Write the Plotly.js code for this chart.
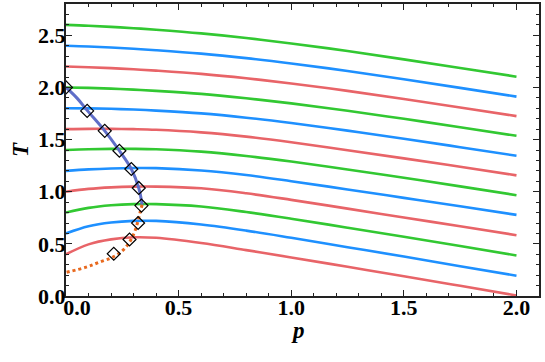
<!DOCTYPE html>
<html>
<head>
<meta charset="utf-8">
<script src="https://cdn.plot.ly/plotly-3.0.1.min.js"></script>
<style>html,body{margin:0;padding:0;background:#fff;}#chart{width:545px;height:362px;}</style>
</head>
<body>
<div id="chart"></div>
<script>
// pressure grid at which the curves were read
const pGrid = [0, 0.1, 0.2, 0.3, 0.4, 0.6, 0.8, 1.0, 1.25, 1.5, 1.75, 2.0];
// curves, labelled by their value at p = 0 (bottom to top)
const T040 = [0.40, 0.495, 0.543, 0.563, 0.558, 0.508, 0.440, 0.370, 0.280, 0.190, 0.098, 0.005];
const T060 = [0.60, 0.668, 0.704, 0.720, 0.720, 0.685, 0.627, 0.558, 0.468, 0.378, 0.286, 0.195];
const T080 = [0.80, 0.845, 0.870, 0.881, 0.881, 0.858, 0.805, 0.741, 0.655, 0.568, 0.479, 0.389];
const T100 = [1.00, 1.027, 1.042, 1.049, 1.049, 1.033, 0.985, 0.922, 0.838, 0.753, 0.668, 0.583];
const T120 = [1.20, 1.214, 1.223, 1.227, 1.226, 1.204, 1.160, 1.101, 1.022, 0.941, 0.860, 0.778];
const T140 = [1.40, 1.407, 1.411, 1.411, 1.407, 1.384, 1.343, 1.289, 1.213, 1.134, 1.051, 0.967];
const T160 = [1.60, 1.603, 1.603, 1.600, 1.594, 1.569, 1.528, 1.474, 1.398, 1.320, 1.239, 1.157];
const T180 = [1.80, 1.799, 1.795, 1.788, 1.778, 1.751, 1.710, 1.659, 1.586, 1.508, 1.427, 1.345];
const T200 = [2.00, 1.996, 1.989, 1.979, 1.967, 1.938, 1.896, 1.847, 1.776, 1.699, 1.618, 1.536];
const T220 = [2.20, 2.194, 2.185, 2.174, 2.161, 2.130, 2.088, 2.038, 1.967, 1.889, 1.808, 1.725];
const T240 = [2.40, 2.393, 2.383, 2.371, 2.357, 2.324, 2.281, 2.230, 2.158, 2.078, 1.996, 1.912];
const T260 = [2.60, 2.592, 2.581, 2.568, 2.553, 2.518, 2.474, 2.422, 2.349, 2.269, 2.187, 2.103];
const curveSeries = [T040, T060, T080, T100, T120, T140, T160, T180, T200, T220, T240, T260];
const curveColors = ['rgb(232,100,104)', 'rgb(30,144,255)', 'rgb(50,200,50)'];

// upper (solid) branch of the boundary line
const solidP = [0, 0.05, 0.094, 0.172, 0.237, 0.29, 0.323, 0.338];
const solidT = [2.0, 1.895, 1.78, 1.584, 1.393, 1.218, 1.036, 0.875];
// lower (dotted) branch
const dotP = [0.338, 0.329, 0.318, 0.304, 0.282, 0.252, 0.208, 0.149, 0.09, 0];
const dotT = [0.875, 0.803, 0.707, 0.612, 0.516, 0.437, 0.373, 0.325, 0.277, 0.226];
// diamond markers
const diaP = [0, 0.094, 0.172, 0.237, 0.29, 0.323, 0.335, 0.32, 0.282, 0.212];
const diaT = [2.0, 1.775, 1.584, 1.393, 1.218, 1.036, 0.867, 0.70, 0.542, 0.405];

const xTicks = [0, 0.5, 1.0, 1.5, 2.0];
const xTickText = ['&#8195;<b>0.0</b>', '<b>0.5</b>', '<b>1.0</b>', '<b>1.5</b>', '<b>2.0</b>'];
const yTicks = [0, 0.5, 1.0, 1.5, 2.0, 2.5];
const yTickText = ['<b>0.0</b>', '<b>0.5</b>', '<b>1.0</b>', '<b>1.5</b>', '<b>2.0</b>', '<b>2.5</b>'];
const xMinor = [0.1,0.2,0.3,0.4,0.6,0.7,0.8,0.9,1.1,1.2,1.3,1.4,1.6,1.7,1.8,1.9,2.1];
const yMinor = [0.1,0.2,0.3,0.4,0.6,0.7,0.8,0.9,1.1,1.2,1.3,1.4,1.6,1.7,1.8,1.9,2.1,2.2,2.3,2.4,2.6,2.7];
const xTitle = 'p';
const yTitle = 'T';

const traces = [];
curveSeries.forEach((ys, i) => {
  traces.push({
    x: pGrid, y: ys, mode: 'lines', type: 'scatter',
    line: {color: curveColors[i % 3], width: 2.6, shape: 'spline', smoothing: 1},
    hoverinfo: 'skip', showlegend: false
  });
});
traces.push({x: solidP, y: solidT, mode: 'lines', type: 'scatter',
  line: {color: 'rgb(95,110,200)', width: 3, shape: 'spline'}, showlegend: false});
traces.push({x: dotP, y: dotT, mode: 'lines', type: 'scatter',
  line: {color: 'rgb(232,105,30)', width: 3, dash: 'dot', shape: 'spline'}, showlegend: false});
traces.push({x: diaP, y: diaT, mode: 'markers', type: 'scatter', cliponaxis: true,
  marker: {symbol: 'diamond-open', size: 10, color: 'black', line: {width: 1.2, color: 'black'}},
  showlegend: false});

const tickFont = {family: 'Liberation Serif, Times New Roman, serif', size: 22, color: 'black'};
const titleFont = {family: 'Liberation Serif, serif', size: 23, color: 'black'};
const layout = {
  width: 545, height: 362,
  margin: {l: 66, r: 6, t: 4, b: 66},
  paper_bgcolor: 'white', plot_bgcolor: 'white',
  showlegend: false,
  font: {family: 'Liberation Serif, serif', color: 'black'},
  xaxis: {
    range: [0, 2.1], showgrid: false, zeroline: false,
    showline: true, linecolor: '#222', linewidth: 2, mirror: 'allticks',
    ticks: 'inside', ticklen: 6, tickwidth: 1.2, tickcolor: '#222',
    tickvals: xTicks, ticktext: xTickText, tickfont: tickFont, ticklabelstandoff: -9,
    minor: {tickvals: xMinor, ticks: 'inside', ticklen: 3, tickwidth: 1, tickcolor: '#222'}
  },
  yaxis: {
    range: [0, 2.8], showgrid: false, zeroline: false,
    showline: true, linecolor: '#222', linewidth: 2, mirror: 'allticks',
    ticks: 'inside', ticklen: 6, tickwidth: 1.2, tickcolor: '#222',
    tickvals: yTicks, ticktext: yTickText, tickfont: tickFont, ticklabelstandoff: -6,
    minor: {tickvals: yMinor, ticks: 'inside', ticklen: 3, tickwidth: 1, tickcolor: '#222'},
    title: {text: '<b><i>' + yTitle + '</i></b>', font: titleFont, standoff: 3}
  },
  annotations: [{
    text: '<b><i>' + xTitle + '</i></b>', xref: 'paper', yref: 'paper',
    x: 0.49, y: -0.07, xanchor: 'center', yanchor: 'top',
    showarrow: false, font: titleFont
  }]
};
Plotly.newPlot('chart', traces, layout, {displayModeBar: false, staticPlot: true});
</script>
</body>
</html>
